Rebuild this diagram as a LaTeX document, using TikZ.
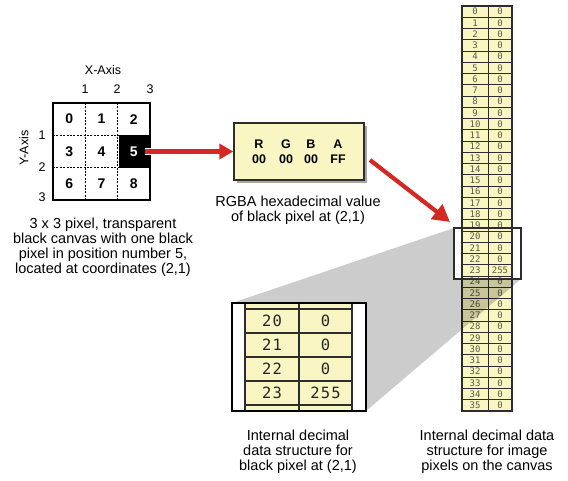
\documentclass[tikz,border=0pt]{standalone}
\usepackage{fontspec}
\setmainfont{Liberation Sans}
\newfontfamily\monof{DejaVu Sans Mono}
\newfontfamily\monowide[LetterSpace=8]{DejaVu Sans Mono}
\usetikzlibrary{arrows.meta}
\definecolor{pale}{RGB}{250,246,196}
\definecolor{redarrow}{RGB}{212,40,34}
\definecolor{edgec}{RGB}{45,45,45}
\definecolor{coltext}{RGB}{90,90,70}
\tikzset{
  lbl/.style={inner sep=0pt, font=\fontsize{12.5}{14}\selectfont},
  cellnum/.style={inner sep=0pt, minimum width=32.33pt, minimum height=32.33pt, font=\fontsize{14}{15}\selectfont\bfseries},
  caption/.style={inner sep=0pt, align=center, font=\fontsize{14.5}{15}\selectfont},
  hexval/.style={inner sep=0pt, font=\fontsize{12.5}{14}\selectfont\bfseries},
  bigarrow/.style={draw=redarrow, line width=4.2pt, -{Triangle[length=14pt,width=15pt]}},
  colnum/.style={inner sep=0pt, text=coltext, font=\fontsize{9}{10}\monof},
  zoomnum/.style={inner sep=0pt, text=black!85, font=\fontsize{15.5}{17}\monowide},
  gridsep/.style={line width=1.2pt, dash pattern=on 2pt off 1.4pt},
}
\begin{document}
\begin{tikzpicture}[x=1pt,y=-1pt]
\useasboundingbox (0,0) rectangle (568,480);

% ---------- 3x3 grid ----------
\fill[black] (118.67,135.33) rectangle (150,168);
\foreach \c/\r/\n in {0/0/0,1/0/1,2/0/2,0/1/3,1/1/4,2/1/5,0/2/6,1/2/7,2/2/8}{
  \node[cellnum] (g\n) at ({69.17+32.33*\c},{119.17+32.33*\r}) {\n};
}
\node[cellnum,text=white] at (g5) {5};
\draw[gridsep] (85.33,103) -- (85.33,200);
\draw[gridsep] (117.67,103) -- (117.67,200);
\draw[gridsep] (53,135.33) -- (150,135.33);
\draw[gridsep] (53,167.67) -- (117.67,167.67);
\draw[line width=1.8pt] (53,103) rectangle (150,200);

\node[lbl] (xaxis) at (103,70) {X-Axis};
\node[lbl] (x1) at (85,89) {1};
\node[lbl] (x2) at (117,89) {2};
\node[lbl] (x3) at (150,89) {3};
\node[lbl] (y1) at (42,135) {1};
\node[lbl] (y2) at (42,167) {2};
\node[lbl] (y3) at (42,197) {3};
\node[lbl,rotate=90] (yaxis) at (24,148) {Y-Axis};

\node[caption] (capgrid) at (103,247) {3 x 3 pixel, transparent\\black canvas with one black\\pixel in position number 5,\\located at coordinates (2,1)};

% ---------- RGBA box ----------
\fill[black!35] (236.5,125.5) rectangle (366.5,182.5);
\node[draw=edgec, line width=1.4pt, fill=pale, minimum width=130pt, minimum height=57pt, inner sep=0pt] (rgba) at (299,151.5) {};
\foreach \x/\a/\b in {259/R/00, 286/G/00, 311/B/00, 338/A/FF}{
  \node[hexval] at (\x,144) {\a};
  \node[hexval] at (\x,159) {\b};
}
\node[caption] (caprgba) at (298,210) {RGBA hexadecimal value\\of black pixel at (2,1)};

% arrow from pixel 5 to RGBA box
\coordinate (a1start) at ([xshift=-5pt]g5.east);
\draw[white, line width=6.5pt] (a1start) -- ++(6,0);
\draw[bigarrow] (a1start) -- (rgba.west);

% ---------- tall column ----------
\foreach \i in {0,...,35}{
  \pgfmathsetmacro\yt{6+\i*11.25}
  \pgfmathsetmacro\yb{6+(\i+1)*11.25}
  \pgfmathsetmacro\ym{6+(\i+0.5)*11.25}
  \filldraw[fill=pale, draw=edgec, line width=0.7pt] (462,\yt) rectangle (512,\yb);
  \node[colnum] at (475,\ym) {\i};
}
\foreach \i in {0,...,22,24,25,...,35}{
  \pgfmathsetmacro\ym{6+(\i+0.5)*11.25}
  \node[colnum] at (500,\ym) {0};
}
\node[colnum] at (500,{6+23.5*11.25}) {255};
\draw[edgec, line width=0.7pt] (488,6) -- (488,411);
\draw[edgec, line width=1.1pt] (462,6) rectangle (512,411);
\draw[edgec, line width=2pt] (462,5.5) -- (512,5.5);

% gray cone
\fill[black, opacity=0.2] (232,303) -- (454,228) -- (454,279) -- (521,279) -- (366,411) -- cycle;
\node[draw=edgec, line width=1.4pt, minimum width=67pt, minimum height=51pt, inner sep=0pt] (hl) at (487.5,253.5) {};

% arrow from RGBA box to the column
\coordinate (a2start) at (370,160);
\coordinate (a2end) at (450,222);
\draw[bigarrow, -{Triangle[length=17pt,width=18pt]}] (a2start) -- (a2end);

% ---------- zoom box ----------
\fill[white] (232,303) rectangle (366,411);
\fill[pale] (245,303) rectangle (352,411);
\foreach \y in {309,333,357,381,405}{
  \draw[edgec, line width=1.2pt] (245,\y) -- (352,\y);
}
\draw[edgec, line width=1.2pt] (299,303) -- (299,411);
\draw[edgec, line width=1.2pt] (245,303) -- (245,411);
\draw[edgec, line width=1.2pt] (352,303) -- (352,411);
\foreach \n/\v/\y in {20/0/321, 21/0/345, 22/0/369, 23/255/393}{
  \node[zoomnum] at (272,\y) {\n};
  \node[zoomnum] at (325.5,\y) {\v};
}
\node[draw=black, line width=2.4pt, minimum width=134pt, minimum height=108pt, inner sep=0pt] (zoombox) at (299,357) {};

\node[caption] (capzoom) at (298,452) {Internal decimal\\data structure for\\black pixel at (2,1)};
\node[caption] (capcol) at (487,452) {Internal decimal data\\structure for image\\pixels on the canvas};
\end{tikzpicture}
\end{document}
